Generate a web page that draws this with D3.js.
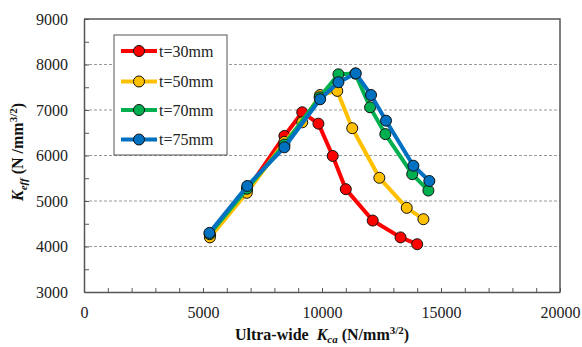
<!DOCTYPE html>
<html>
<head>
<meta charset="utf-8">
<script src="https://cdn.jsdelivr.net/npm/d3@7"></script>
<style>
  body { margin: 0; background: #fff; }
  svg, svg text { font-family: "Liberation Serif", "Times New Roman", serif !important; }
  .axis path, .axis line { stroke: #555; }
  .axis text { font-size: 16px; fill: #222; }
</style>
</head>
<body>
<div id="chart-area"></div>
<script>
// series data (x = Ultra-wide Kca, y = Keff)
const seriesNames = ["t=30mm", "t=50mm", "t=70mm", "t=75mm"]
const seriesColors = ["#ff0000", "#ffc000", "#00b050", "#0070c0"]

const t30x = [5300, 6850, 8420, 9170, 9850, 10450, 11000, 12130, 13300, 14000]
const t30y = [4250, 5240, 6430, 6950, 6700, 5990, 5260, 4570, 4200, 4050]

const t50x = [5290, 6840, 8420, 9170, 9920, 10640, 11270, 12410, 13560, 14260]
const t50y = [4200, 5180, 6300, 6730, 7330, 7420, 6600, 5510, 4850, 4600]

const t70x = [5280, 6850, 8420, 9900, 10690, 11400, 12020, 12660, 13790, 14470]
const t70y = [4270, 5270, 6240, 7280, 7785, 7800, 7060, 6470, 5590, 5230]

const t75x = [5270, 6860, 8420, 9920, 10690, 11420, 12060, 12690, 13840, 14510]
const t75y = [4300, 5330, 6180, 7235, 7610, 7805, 7330, 6765, 5775, 5440]

const xTicks = d3.range(0, 20001, 1000)
const yTicks = d3.range(3000, 9001, 500)
const gridValues = [4000, 5000, 6000, 7000, 8000]

const MARGIN = { LEFT: 84, RIGHT: 22, TOP: 19, BOTTOM: 55 }
const WIDTH = 582 - MARGIN.LEFT - MARGIN.RIGHT
const HEIGHT = 347 - MARGIN.TOP - MARGIN.BOTTOM

const svg = d3.select("#chart-area").append("svg")
  .attr("width", 582)
  .attr("height", 347)

const g = svg.append("g")
  .attr("transform", `translate(${MARGIN.LEFT}, ${MARGIN.TOP})`)

// scales
const x = d3.scaleLinear().domain([0, 20000]).range([0, WIDTH])
const y = d3.scaleLinear().domain([3000, 9000]).range([HEIGHT, 0])

// dashed gridlines
g.selectAll(".grid")
  .data(gridValues)
  .enter().append("line")
  .attr("class", "grid")
  .attr("x1", 0)
  .attr("x2", WIDTH)
  .attr("y1", d => y(d))
  .attr("y2", d => y(d))
  .attr("stroke", "#999")
  .attr("stroke-width", 1)
  .attr("stroke-dasharray", "3,2")

// frame (top + right)
g.append("path")
  .attr("d", `M0,0H${WIDTH}V${HEIGHT}`)
  .attr("fill", "none")
  .attr("stroke", "#555")
  .attr("stroke-width", 1.5)

// axes
const xAxisCall = d3.axisBottom(x)
  .tickValues(xTicks)
  .tickSizeInner(-4)
  .tickSizeOuter(0)
  .tickPadding(15)
  .tickFormat(d => d % 5000 === 0 ? d : "")
const yAxisCall = d3.axisLeft(y)
  .tickValues(yTicks)
  .tickSizeInner(-5)
  .tickSizeOuter(0)
  .tickPadding(16)
  .tickFormat(d => d % 1000 === 0 ? d : "")

const xAxis = g.append("g")
  .attr("class", "x axis")
  .attr("transform", `translate(0, ${HEIGHT})`)
  .call(xAxisCall)
  .attr("font-family", null)
  .attr("font-size", null)
const yAxis = g.append("g")
  .attr("class", "y axis")
  .call(yAxisCall)
  .attr("font-family", null)
  .attr("font-size", null)

g.selectAll(".axis .domain").attr("stroke-width", 1.5)

// lines + markers
const series = [
  { xs: t30x, ys: t30y },
  { xs: t50x, ys: t50y },
  { xs: t70x, ys: t70y },
  { xs: t75x, ys: t75y }
].map((s, i) => ({
  name: seriesNames[i],
  color: seriesColors[i],
  values: s.xs.map((v, j) => ({ x: v, y: s.ys[j] }))
}))

const line = d3.line()
  .x(d => x(d.x))
  .y(d => y(d.y))

series.forEach(s => {
  const sg = g.append("g")
  sg.append("path")
    .attr("fill", "none")
    .attr("stroke", s.color)
    .attr("stroke-width", 4)
    .attr("stroke-linejoin", "round")
    .attr("d", line(s.values))
  sg.selectAll("circle")
    .data(s.values)
    .enter().append("circle")
    .attr("cx", d => x(d.x))
    .attr("cy", d => y(d.y))
    .attr("r", 5.5)
    .attr("fill", s.color)
    .attr("stroke", "#111")
    .attr("stroke-width", 1)
})

// legend
const legend = svg.append("g")
  .attr("transform", "translate(114, 35)")
legend.append("rect")
  .attr("width", 113)
  .attr("height", 120)
  .attr("fill", "#fff")
  .attr("stroke", "#555")
  .attr("stroke-width", 1)

const rows = [16, 46.5, 75, 104.5]
series.forEach((s, i) => {
  const row = legend.append("g").attr("transform", `translate(0, ${rows[i]})`)
  row.append("line")
    .attr("x1", 7).attr("x2", 43)
    .attr("stroke", s.color).attr("stroke-width", 4)
  row.append("circle")
    .attr("cx", 25).attr("r", 5.5)
    .attr("fill", s.color).attr("stroke", "#111").attr("stroke-width", 1)
  row.append("text")
    .attr("x", 45).attr("dy", "0.35em")
    .attr("font-size", 16).attr("fill", "#222")
    .text(s.name)
})

// x axis title
const xt = svg.append("text")
  .attr("x", 322)
  .attr("y", 340)
  .attr("text-anchor", "middle")
  .attr("font-size", 16)
  .attr("font-weight", "bold")
  .attr("fill", "#111")
xt.append("tspan").text("Ultra-wide\u00a0\u00a0")
xt.append("tspan").attr("font-style", "italic").text("K")
xt.append("tspan").attr("font-style", "italic").attr("font-size", 11).attr("dy", 3).text("ca")
xt.append("tspan").attr("dy", -3).text(" (N/mm")
xt.append("tspan").attr("font-size", 11).attr("dy", -6).text("3/2")
xt.append("tspan").attr("dy", 6).text(")")

// y axis title
const yt = svg.append("text")
  .attr("transform", "translate(23, 152) rotate(-90)")
  .attr("text-anchor", "middle")
  .attr("font-size", 16)
  .attr("font-weight", "bold")
  .attr("fill", "#111")
yt.append("tspan").attr("font-style", "italic").text("K")
yt.append("tspan").attr("font-style", "italic").attr("font-size", 11).attr("dy", 4).text("eff")
yt.append("tspan").attr("dy", -4).text(" (N /mm")
yt.append("tspan").attr("font-size", 11).attr("dy", -6).text("3/2")
yt.append("tspan").attr("dy", 6).text(")")
</script>
</body>
</html>
